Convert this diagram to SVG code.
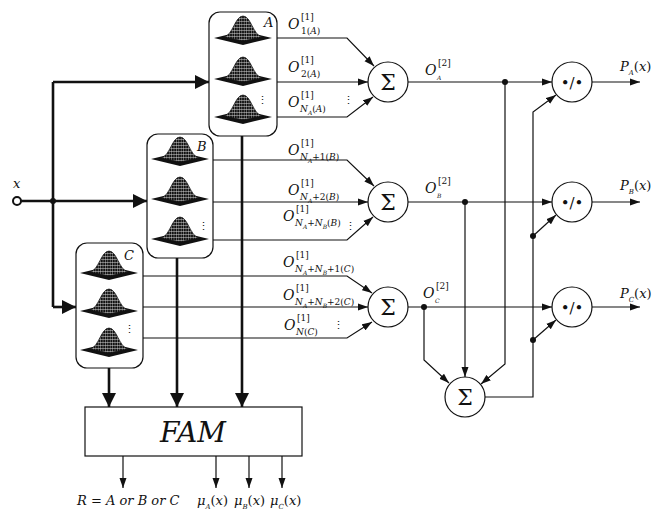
<svg xmlns="http://www.w3.org/2000/svg" width="654" height="510" viewBox="0 0 654 510" font-family="DejaVu Serif, serif">
<style>
.th{stroke:#111;stroke-width:2.6;fill:none}
.tn{stroke:#111;stroke-width:1.2;fill:none}
.box{fill:#fff;stroke:#111;stroke-width:1.2}
.nd{fill:#fff;stroke:#111;stroke-width:1.2}
.dot{fill:#111}
text{fill:#111}
.i{font-style:italic}
.O{font-style:italic;font-size:14px}
.s{font-style:normal;font-size:9px}
.si{font-style:italic;font-size:9px}
.ss{font-style:italic;font-size:6px}
</style>
<defs>
<marker id="a" markerUnits="userSpaceOnUse" markerWidth="10" markerHeight="8" refX="10" refY="4" orient="auto"><path d="M0,0.5 L10,4 L0,7.5 Z" fill="#111"/></marker>
<marker id="A" markerUnits="userSpaceOnUse" markerWidth="14" markerHeight="14" refX="14" refY="7" orient="auto"><path d="M0,0 L14,7 L0,14 Z" fill="#111"/></marker>
<pattern id="mesh" width="2.4" height="3" patternUnits="userSpaceOnUse"><rect width="2.4" height="3" fill="#111"/><path d="M1.2,0V3M0,1.5H2.4" stroke="#fff" stroke-width="0.4" opacity="0.9"/></pattern>
<g id="gs"><path d="M-29,0 L0,-7 L29,0 L0,7 Z" fill="#111"/><path d="M-19,-1 C-10,-3 -8,-22 0,-22 C8,-22 10,-3 19,-1 L0,3 Z" fill="url(#mesh)" stroke="#111" stroke-width="0.7"/></g>
</defs>
<rect width="654" height="510" fill="#fff"/>

<g id="connectors">
<circle cx="17" cy="201" r="4" fill="#fff" stroke="#111" stroke-width="2"/>
<path class="th" d="M21,201 H147" marker-end="url(#A)"/>
<path class="th" d="M53,82 V307"/>
<path class="th" d="M53,82 H209" marker-end="url(#A)"/>
<path class="th" d="M53,307 H76" marker-end="url(#A)"/>
<circle class="dot" cx="53" cy="201" r="3"/>
<path class="th" d="M242,136 V407" marker-end="url(#A)"/>
<path class="th" d="M177,258 V407" marker-end="url(#A)"/>
<path class="th" d="M109,368 V407" marker-end="url(#A)"/>
<path class="tn" d="M277,38 H347 L374,66" marker-end="url(#a)"/>
<path class="tn" d="M277,82 H368" marker-end="url(#a)"/>
<path class="tn" d="M277,117 H347 L373,97" marker-end="url(#a)"/>
<path class="tn" d="M213,160 H347 L374,186" marker-end="url(#a)"/>
<path class="tn" d="M213,202 H368" marker-end="url(#a)"/>
<path class="tn" d="M213,240 H347 L373,217" marker-end="url(#a)"/>
<path class="tn" d="M143,276 H347 L372,293" marker-end="url(#a)"/>
<path class="tn" d="M143,307 H368" marker-end="url(#a)"/>
<path class="tn" d="M143,338 H347 L372,322" marker-end="url(#a)"/>
<path class="tn" d="M408,82 H552" marker-end="url(#a)"/>
<path class="tn" d="M408,202 H552" marker-end="url(#a)"/>
<path class="tn" d="M408,307 H552" marker-end="url(#a)"/>
<path class="tn" d="M592,82 H640" marker-end="url(#a)"/>
<path class="tn" d="M592,202 H640" marker-end="url(#a)"/>
<path class="tn" d="M592,307 H640" marker-end="url(#a)"/>
<path class="tn" d="M505,82 V364 L481,384" marker-end="url(#a)"/>
<path class="tn" d="M465,202 V377" marker-end="url(#a)"/>
<path class="tn" d="M424,307 V360 L449,383" marker-end="url(#a)"/>
<path class="tn" d="M485,397 H533 V112 L556,95" marker-end="url(#a)"/>
<path class="tn" d="M533,236 L556,215" marker-end="url(#a)"/>
<path class="tn" d="M533,340 L556,320" marker-end="url(#a)"/>
<circle class="dot" cx="505" cy="82" r="3"/>
<circle class="dot" cx="465" cy="202" r="3"/>
<circle class="dot" cx="424" cy="307" r="3"/>
<circle class="dot" cx="533" cy="236" r="3"/>
<circle class="dot" cx="533" cy="340" r="3"/>
<path class="tn" d="M123,456 V488" marker-end="url(#a)"/>
<path class="tn" d="M216,456 V488" marker-end="url(#a)"/>
<path class="tn" d="M249,456 V488" marker-end="url(#a)"/>
<path class="tn" d="M282,456 V488" marker-end="url(#a)"/>
</g>

<g id="boxA">
<rect class="box" x="209" y="12" width="68" height="124" rx="11"/>
<use href="#gs" x="243" y="38"/><use href="#gs" x="243" y="79"/><use href="#gs" x="243" y="117"/>
<text class="i" x="264" y="27" font-size="13">A</text>
<text x="262" y="104" font-size="11" text-anchor="middle">⋮</text>
</g>
<g id="boxB">
<rect class="box" x="147" y="134" width="66" height="124" rx="11"/>
<use href="#gs" x="180" y="159"/><use href="#gs" x="180" y="199"/><use href="#gs" x="180" y="239"/>
<text class="i" x="197" y="151" font-size="13">B</text>
<text x="203" y="230" font-size="11" text-anchor="middle">⋮</text>
</g>
<g id="boxC">
<rect class="box" x="76" y="243" width="67" height="125" rx="11"/>
<use href="#gs" x="109" y="273"/><use href="#gs" x="109" y="311"/><use href="#gs" x="109" y="350"/>
<text class="i" x="124" y="260" font-size="13">C</text>
<text x="129" y="333" font-size="11" text-anchor="middle">⋮</text>
</g>

<g id="sumA"><circle class="nd" cx="388" cy="82" r="20"/><text x="388" y="90" font-size="22" text-anchor="middle">Σ</text></g>
<g id="sumB"><circle class="nd" cx="388" cy="202" r="20"/><text x="388" y="210" font-size="22" text-anchor="middle">Σ</text></g>
<g id="sumC"><circle class="nd" cx="388" cy="307" r="20"/><text x="388" y="315" font-size="22" text-anchor="middle">Σ</text></g>
<g id="sumT"><circle class="nd" cx="465" cy="397" r="20"/><text x="465" y="405" font-size="22" text-anchor="middle">Σ</text></g>
<g id="divA"><circle class="nd" cx="572" cy="82" r="20"/><text x="572" y="88" font-size="15" text-anchor="middle">•/•</text></g>
<g id="divB"><circle class="nd" cx="572" cy="202" r="20"/><text x="572" y="208" font-size="15" text-anchor="middle">•/•</text></g>
<g id="divC"><circle class="nd" cx="572" cy="307" r="20"/><text x="572" y="313" font-size="15" text-anchor="middle">•/•</text></g>
<g id="fam"><rect class="box" x="85" y="407" width="217" height="49"/><text class="i" x="193" y="442" font-size="28" text-anchor="middle">FAM</text></g>

<g id="labels">
<text class="i" x="13" y="188" font-size="13">x</text>
<text x="348" y="104" font-size="11" text-anchor="middle">⋮</text>
<text x="350" y="230" font-size="11" text-anchor="middle">⋮</text>
<text x="338" y="329" font-size="11" text-anchor="middle">⋮</text>

<text class="O" x="288" y="29">O<tspan class="s" x="301" y="20">[1]</tspan><tspan class="s" x="301" y="34">1(</tspan><tspan class="si">A</tspan><tspan class="s">)</tspan></text>
<text class="O" x="288" y="72">O<tspan class="s" x="301" y="63">[1]</tspan><tspan class="s" x="301" y="77">2(</tspan><tspan class="si">A</tspan><tspan class="s">)</tspan></text>
<text class="O" x="288" y="107">O<tspan class="s" x="301" y="98">[1]</tspan><tspan class="si" x="300" y="112">N</tspan><tspan class="ss" y="115">A</tspan><tspan class="s" y="112">(</tspan><tspan class="si">A</tspan><tspan class="s">)</tspan></text>

<text class="O" x="288" y="155">O<tspan class="s" x="301" y="146">[1]</tspan><tspan class="si" x="300" y="160">N</tspan><tspan class="ss" y="163">A</tspan><tspan class="s" y="160">+1(</tspan><tspan class="si">B</tspan><tspan class="s">)</tspan></text>
<text class="O" x="288" y="195">O<tspan class="s" x="301" y="186">[1]</tspan><tspan class="si" x="300" y="200">N</tspan><tspan class="ss" y="203">A</tspan><tspan class="s" y="200">+2(</tspan><tspan class="si">B</tspan><tspan class="s">)</tspan></text>
<text class="O" x="283" y="221">O<tspan class="s" x="296" y="212">[1]</tspan><tspan class="si" x="295" y="226">N</tspan><tspan class="ss" y="229">A</tspan><tspan class="s" y="226">+</tspan><tspan class="si">N</tspan><tspan class="ss" y="229">B</tspan><tspan class="s" y="226">(</tspan><tspan class="si">B</tspan><tspan class="s">)</tspan></text>

<text class="O" x="283" y="267">O<tspan class="s" x="296" y="258">[1]</tspan><tspan class="si" x="295" y="272">N</tspan><tspan class="ss" y="275">A</tspan><tspan class="s" y="272">+</tspan><tspan class="si">N</tspan><tspan class="ss" y="275">B</tspan><tspan class="s" y="272">+1(</tspan><tspan class="si">C</tspan><tspan class="s">)</tspan></text>
<text class="O" x="283" y="300">O<tspan class="s" x="296" y="291">[1]</tspan><tspan class="si" x="295" y="305">N</tspan><tspan class="ss" y="308">A</tspan><tspan class="s" y="305">+</tspan><tspan class="si">N</tspan><tspan class="ss" y="308">B</tspan><tspan class="s" y="305">+2(</tspan><tspan class="si">C</tspan><tspan class="s">)</tspan></text>
<text class="O" x="284" y="330">O<tspan class="s" x="297" y="321">[1]</tspan><tspan class="si" x="296" y="335">N</tspan><tspan class="s">(</tspan><tspan class="si">C</tspan><tspan class="s">)</tspan></text>

<text class="O" x="425" y="75">O<tspan class="s" x="438" y="66">[2]</tspan><tspan class="ss" x="437" y="80">A</tspan></text>
<text class="O" x="425" y="193">O<tspan class="s" x="438" y="184">[2]</tspan><tspan class="ss" x="437" y="198">B</tspan></text>
<text class="O" x="423" y="298">O<tspan class="s" x="436" y="289">[2]</tspan><tspan class="ss" x="435" y="303">C</tspan></text>

<text class="i" x="620" y="71" font-size="13">P<tspan font-size="7" y="75">A</tspan><tspan font-style="normal" y="71">(</tspan>x<tspan font-style="normal">)</tspan></text>
<text class="i" x="620" y="190" font-size="13">P<tspan font-size="7" y="194">B</tspan><tspan font-style="normal" y="190">(</tspan>x<tspan font-style="normal">)</tspan></text>
<text class="i" x="620" y="298" font-size="13">P<tspan font-size="7" y="302">C</tspan><tspan font-style="normal" y="298">(</tspan>x<tspan font-style="normal">)</tspan></text>

<text class="i" x="77" y="505" font-size="13">R <tspan font-style="normal">=</tspan> A or B or C</text>
<text class="i" x="197" y="505" font-size="13">μ<tspan font-size="7" y="509">A</tspan><tspan font-style="normal" y="505">(</tspan>x<tspan font-style="normal">)</tspan></text>
<text class="i" x="234" y="505" font-size="13">μ<tspan font-size="7" y="509">B</tspan><tspan font-style="normal" y="505">(</tspan>x<tspan font-style="normal">)</tspan></text>
<text class="i" x="270" y="505" font-size="13">μ<tspan font-size="7" y="509">C</tspan><tspan font-style="normal" y="505">(</tspan>x<tspan font-style="normal">)</tspan></text>
</g>
</svg>
